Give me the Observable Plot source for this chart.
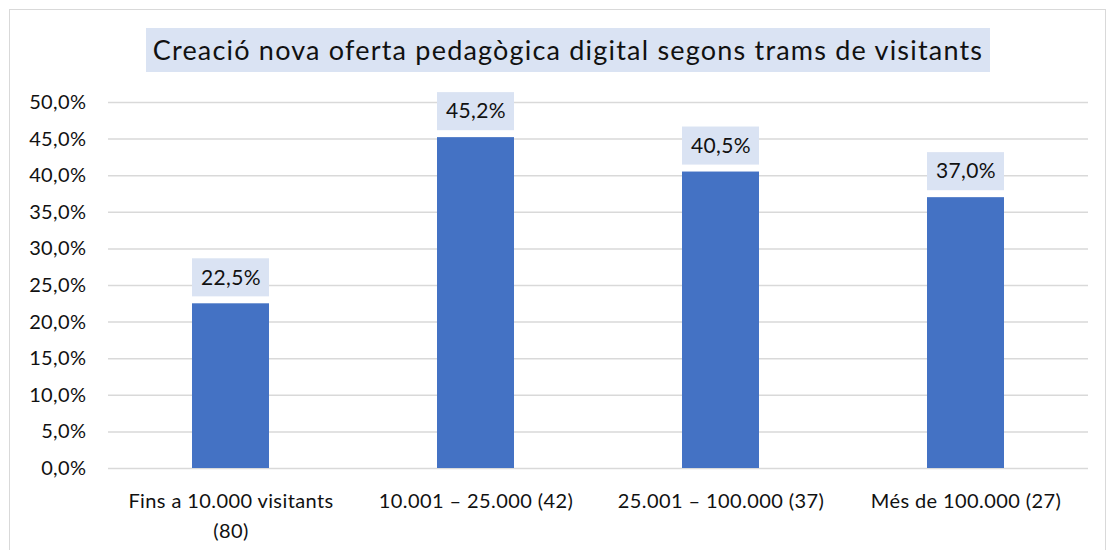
<!DOCTYPE html>
<html>
<head>
<meta charset="utf-8">
<script src="https://cdn.jsdelivr.net/npm/d3@7"></script>
<script src="https://cdn.jsdelivr.net/npm/@observablehq/plot@0.6"></script>
<style>
  html, body { margin: 0; padding: 0; background: #fff; }
  body { width: 1112px; height: 550px; position: relative; overflow: hidden; font-family: Lato, "Open Sans", sans-serif; }
  #frame { position: absolute; left: 9px; top: 9px; width: 1097px; height: 560px; border: 1.5px solid #d9d9d9; box-sizing: border-box; }
  #title { position: absolute; left: 146px; top: 28px; width: 844px; height: 44px; background: #DAE3F3; color: #111;
           font-size: 27px; letter-spacing: 1.2px; line-height: 44px; text-align: center; white-space: nowrap; }
  #chart { position: absolute; left: 0; top: 80px; }
  #chart svg text { letter-spacing: 0.4px; }
</style>
</head>
<body>
<div id="frame"></div>
<div id="title">Creació nova oferta pedagògica digital segons trams de visitants</div>
<div id="chart"></div>
<script>
const categories = ["Fins a 10.000 visitants (80)", "10.001 – 25.000 (42)", "25.001 – 100.000 (37)", "Més de 100.000 (27)"];
const values = [22.5, 45.2, 40.5, 37.0];
const yTicks = [0, 5, 10, 15, 20, 25, 30, 35, 40, 45, 50];
const xTickLabels = ["Fins a 10.000 visitants\n(80)", "10.001 – 25.000 (42)", "25.001 – 100.000 (37)", "Més de 100.000 (27)"];

const data = categories.map((c, i) => ({cat: c, v: values[i], label: xTickLabels[i]}));
const fmt = v => v.toFixed(1).replace(".", ",") + "%";

const chart = Plot.plot({
  width: 1112,
  height: 470,
  marginLeft: 108,
  marginRight: 24,
  marginTop: 22,
  marginBottom: 82,
  style: {fontFamily: "Lato, 'Open Sans', sans-serif", fontSize: "20px", color: "#111", background: "transparent"},
  x: {domain: categories, paddingInner: 0.686, paddingOuter: 0.343, label: null},
  y: {domain: [0, 50], label: null},
  marks: [
    Plot.ruleY(yTicks, {stroke: "#d9d9d9", strokeWidth: 1.5}),
    Plot.axisY({ticks: yTicks, tickSize: 0, tickPadding: 22, tickFormat: fmt, fontSize: 20, fill: "#111", label: null}),
    Plot.axisX({tickSize: 0, tickPadding: 18, fontSize: 20, lineHeight: 1.5, fill: "#111", label: null,
                tickFormat: d => xTickLabels[categories.indexOf(d)]}),
    Plot.barY(data, {x: "cat", y: "v", fill: "#4472C4"}),
    Plot.barY(data, {x: "cat", y1: d => d.v + 0.95, y2: d => d.v + 6.15, fill: "#DAE3F3"}),
    Plot.text(data, {x: "cat", y: d => d.v + 3.55, text: d => fmt(d.v), fontSize: 21, fill: "#111"})
  ]
});
document.getElementById("chart").appendChild(chart);
</script>
</body>
</html>
